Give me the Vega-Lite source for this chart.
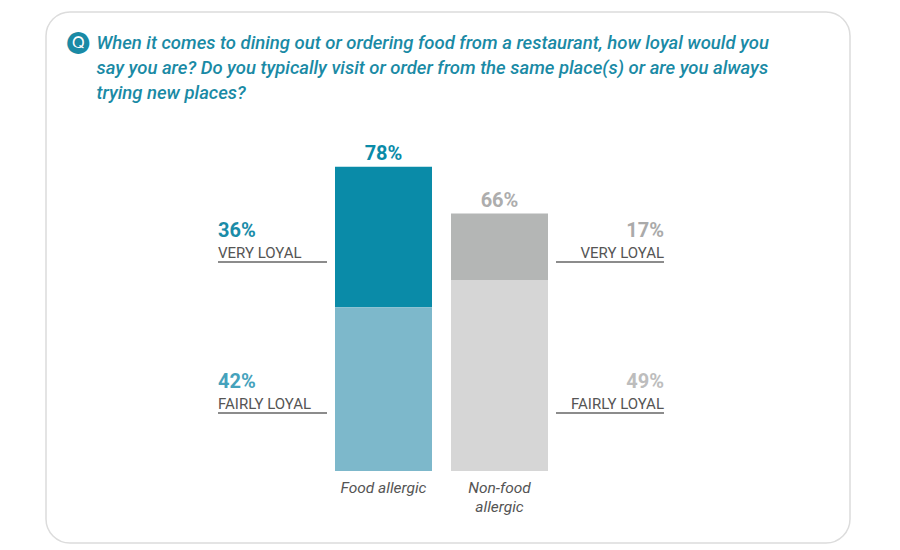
{
  "$schema": "https://vega.github.io/schema/vega-lite/v6.json",
  "width": 804,
  "height": 531,
  "autosize": {"type": "none"},
  "padding": {"left": 46, "top": 12, "right": 50, "bottom": 7},
  "background": "white",
  "config": {
    "view": {"stroke": "#DCDCDC", "strokeWidth": 1.5, "cornerRadius": 24},
    "font": "Roboto"
  },
  "title": {
    "text": "🅠",
    "subtitle": [
      "\u200b\u2007\u2007\u00a0\u00a0When it comes to dining out or ordering food from a restaurant, how loyal would you",
      "\u200b\u2007\u2007\u00a0\u00a0say you are? Do you typically visit or order from the same place(s) or are you always",
      "\u200b\u2007\u2007\u00a0\u00a0trying new places?"
    ],
    "anchor": "start",
    "frame": "group",
    "orient": "top",
    "offset": -91.5,
    "dx": 21,
    "font": "DejaVu Sans",
    "fontSize": 22,
    "lineHeight": 22,
    "fontWeight": "normal",
    "color": "#1A8AA5",
    "subtitlePadding": -19,
    "subtitleFont": "Roboto",
    "subtitleFontSize": 18.5,
    "subtitleFontStyle": "italic",
    "subtitleFontWeight": 500,
    "subtitleColor": "#1A8AA5",
    "subtitleLineHeight": 25
  },
  "data": {
    "values": [
      {"group": "Food allergic", "level": "VERY LOYAL", "value": 0.36},
      {"group": "Food allergic", "level": "FAIRLY LOYAL", "value": 0.42},
      {"group": "Non-food allergic", "level": "VERY LOYAL", "value": 0.17},
      {"group": "Non-food allergic", "level": "FAIRLY LOYAL", "value": 0.49}
    ]
  },
  "layer": [
    {
      "transform": [{"calculate": "datum.group + '|' + datum.level", "as": "key"}],
      "mark": {"type": "bar"},
      "encoding": {
        "x": {
          "field": "group",
          "type": "nominal",
          "scale": {"range": [289, 502], "paddingInner": 0.1638, "paddingOuter": 0},
          "axis": {
            "orient": "bottom",
            "offset": -72,
            "domain": false,
            "ticks": false,
            "grid": false,
            "title": null,
            "labelAngle": 0,
            "labelPadding": 9,
            "labelFont": "Roboto",
            "labelFontSize": 15.5,
            "labelFontStyle": "italic",
            "labelColor": "#555555",
            "labelLineHeight": 19,
            "labelExpr": "datum.value == 'Non-food allergic' ? ['Non-food', 'allergic'] : datum.value"
          }
        },
        "y": {
          "field": "value",
          "type": "quantitative",
          "stack": "zero",
          "scale": {"domain": [-0.1846, 1.1769], "nice": false, "zero": false},
          "axis": null
        },
        "color": {
          "field": "key",
          "type": "nominal",
          "scale": {
            "domain": ["Food allergic|VERY LOYAL", "Food allergic|FAIRLY LOYAL", "Non-food allergic|VERY LOYAL", "Non-food allergic|FAIRLY LOYAL"],
            "range": ["#0A8BA8", "#7DB8CB", "#B4B6B5", "#D6D6D6"]
          },
          "legend": null
        },
        "order": {"field": "level", "sort": "ascending"}
      }
    },
    {
      "transform": [{"aggregate": [{"op": "sum", "field": "value", "as": "total"}], "groupby": ["group"]}],
      "mark": {"type": "text", "fontSize": 20, "fontWeight": "bold", "baseline": "alphabetic", "dy": -7},
      "encoding": {
        "x": {"field": "group", "type": "nominal"},
        "y": {
          "field": "total",
          "type": "quantitative",
          "scale": {"domain": [-0.1846, 1.1769], "nice": false, "zero": false},
          "axis": null
        },
        "text": {"field": "total", "type": "quantitative", "format": ".0%"},
        "color": {
          "field": "group",
          "type": "nominal",
          "scale": {"domain": ["Food allergic", "Non-food allergic"], "range": ["#0A8BA8", "#ADADAD"]},
          "legend": null
        }
      }
    },
    {
      "transform": [{"filter": "datum.group == 'Food allergic'"}],
      "mark": {"type": "text", "align": "left", "baseline": "alphabetic", "fontSize": 20, "fontWeight": "bold", "dx": -117, "dy": -25},
      "encoding": {
        "x": {"field": "group", "type": "nominal", "bandPosition": 0},
        "y": {
          "field": "level",
          "type": "nominal",
          "scale": {"type": "point", "domain": ["VERY LOYAL", "FAIRLY LOYAL"], "range": [250, 401], "padding": 0},
          "axis": null
        },
        "text": {"field": "value", "type": "quantitative", "format": ".0%"},
        "color": {
          "field": "level",
          "type": "nominal",
          "scale": {"domain": ["VERY LOYAL", "FAIRLY LOYAL"], "range": ["#1A8CA8", "#45A2BC"]},
          "legend": null
        }
      }
    },
    {
      "transform": [{"filter": "datum.group == 'Food allergic'"}],
      "mark": {"type": "text", "align": "left", "baseline": "alphabetic", "fontSize": 15, "color": "#555555", "dx": -117, "dy": -4},
      "encoding": {
        "x": {"field": "group", "type": "nominal", "bandPosition": 0},
        "y": {
          "field": "level",
          "type": "nominal",
          "scale": {"type": "point", "domain": ["VERY LOYAL", "FAIRLY LOYAL"], "range": [250, 401], "padding": 0},
          "axis": null
        },
        "text": {"field": "level", "type": "nominal"}
      }
    },
    {
      "transform": [{"filter": "datum.group == 'Food allergic'"}],
      "mark": {"type": "tick", "orient": "horizontal", "size": 109, "thickness": 1.5, "color": "#666666", "opacity": 1, "xOffset": -111},
      "encoding": {
        "x": {"field": "group", "type": "nominal"},
        "y": {
          "field": "level",
          "type": "nominal",
          "scale": {"type": "point", "domain": ["VERY LOYAL", "FAIRLY LOYAL"], "range": [250, 401], "padding": 0},
          "axis": null
        }
      }
    },
    {
      "transform": [{"filter": "datum.group == 'Non-food allergic'"}],
      "mark": {"type": "text", "align": "right", "baseline": "alphabetic", "fontSize": 20, "fontWeight": "bold", "dx": 116, "dy": -25},
      "encoding": {
        "x": {"field": "group", "type": "nominal", "bandPosition": 1},
        "y": {
          "field": "level",
          "type": "nominal",
          "scale": {"type": "point", "domain": ["VERY LOYAL", "FAIRLY LOYAL"], "range": [250, 401], "padding": 0},
          "axis": null
        },
        "text": {"field": "value", "type": "quantitative", "format": ".0%"},
        "color": {
          "field": "level",
          "type": "nominal",
          "scale": {"domain": ["VERY LOYAL", "FAIRLY LOYAL"], "range": ["#AAAAAA", "#BDBDBD"]},
          "legend": null
        }
      }
    },
    {
      "transform": [{"filter": "datum.group == 'Non-food allergic'"}],
      "mark": {"type": "text", "align": "right", "baseline": "alphabetic", "fontSize": 15, "color": "#555555", "dx": 116, "dy": -4},
      "encoding": {
        "x": {"field": "group", "type": "nominal", "bandPosition": 1},
        "y": {
          "field": "level",
          "type": "nominal",
          "scale": {"type": "point", "domain": ["VERY LOYAL", "FAIRLY LOYAL"], "range": [250, 401], "padding": 0},
          "axis": null
        },
        "text": {"field": "level", "type": "nominal"}
      }
    },
    {
      "transform": [{"filter": "datum.group == 'Non-food allergic'"}],
      "mark": {"type": "tick", "orient": "horizontal", "size": 108, "thickness": 1.5, "color": "#666666", "opacity": 1, "xOffset": 110.5},
      "encoding": {
        "x": {"field": "group", "type": "nominal"},
        "y": {
          "field": "level",
          "type": "nominal",
          "scale": {"type": "point", "domain": ["VERY LOYAL", "FAIRLY LOYAL"], "range": [250, 401], "padding": 0},
          "axis": null
        }
      }
    }
  ],
  "resolve": {"scale": {"y": "independent", "color": "independent"}}
}
